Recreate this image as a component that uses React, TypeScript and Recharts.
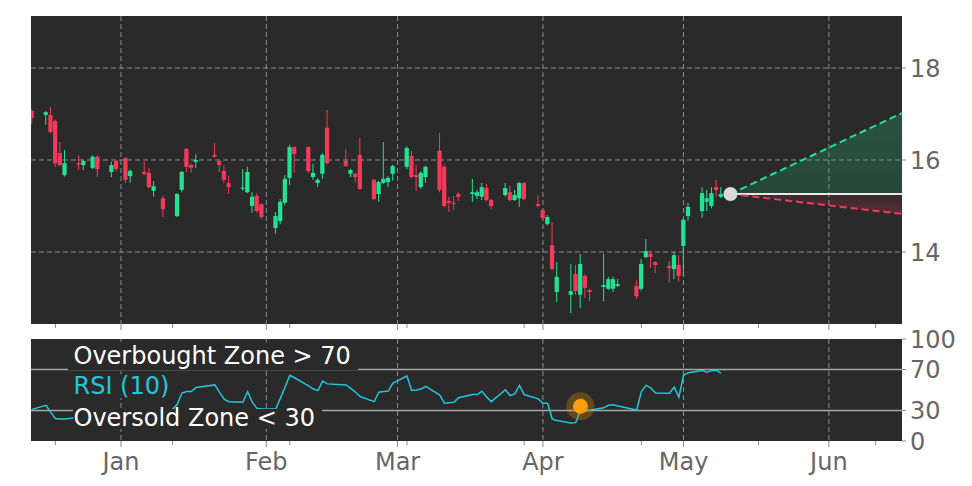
import React from 'react';
import {
  ComposedChart,
  Bar,
  Line,
  Area,
  Scatter,
  XAxis,
  YAxis,
  CartesianGrid,
  ReferenceDot,
} from 'recharts';

// trading days, counted in days from Jan 1 (negative = December)
const days = [
  -19,
  -16, -15, -14, -13, -12,
  -9, -8, -6, -5,
  -2, -1, 1, 2,
  5, 6, 7, 9,
  12, 13, 14, 15, 16,
  20, 21, 22, 23,
  26, 27, 28, 29, 30,
  33, 34, 35, 36, 37,
  40, 41, 42, 43, 44,
  48, 49, 50, 51,
  54, 55, 56, 57, 58,
  61, 62, 63, 64, 65,
  68, 69, 70, 71, 72,
  75, 76, 77, 78, 79,
  82, 83, 84, 85, 86,
  89, 90, 91, 92, 93,
  96, 97, 98, 99, 100,
  103, 104, 105, 106,
  110, 111, 112, 113, 114,
  117, 118, 119, 120, 121,
  124, 125, 126, 127, 128,
];

const opens = [
  17.07,
  16.98, 16.98, 16.85, 16.15, 15.67,
  15.93, 15.89, 15.83, 16.07,
  15.74, 15.98, 16.04, 15.65,
  15.74, 15.72, 15.33, 15.17,
  14.78, 15.35, 16.24, 15.89, 15.96,
  16.11, 15.98, 15.76, 15.5,
  15.38, 15.3, 15.0, 15.22, 15.04,
  14.52, 14.67, 15.07, 15.61, 16.28,
  16.28, 15.63, 15.5, 15.7, 16.7,
  15.98, 15.7, 15.7, 16.11,
  15.57, 15.26, 15.5, 15.52, 15.7,
  15.85, 16.09, 15.67, 15.41, 15.63,
  16.2, 15.85, 15.11, 15.07, 15.26,
  15.26, 15.22, 15.2, 15.39, 15.13,
  15.24, 15.3, 15.13, 15.17, 15.5,
  15.04, 14.91, 14.61, 14.15, 13.13,
  13.07, 13.52, 13.07, 13.48, 13.17,
  13.24, 13.2, 13.2, 13.26,
  13.26, 13.2, 13.89, 13.96, 13.78,
  13.7, 13.63, 13.72, 14.13, 14.78,
  14.89, 15.09, 15.0, 15.41, 15.2,
];

const closes = [
  16.91,
  17.04, 16.61, 15.93, 15.89, 15.93,
  15.9, 15.98, 16.07, 15.8,
  15.89, 15.8, 15.57, 15.76,
  15.7, 15.41, 15.43, 14.93,
  15.26, 15.74, 15.85, 15.83, 16.0,
  16.07, 15.89, 15.57, 15.41,
  15.4, 15.74, 15.2, 14.89, 14.76,
  14.78, 15.09, 15.59, 16.28, 16.13,
  15.76, 15.72, 15.57, 16.11, 15.93,
  15.87, 15.78, 15.63, 15.37,
  15.15, 15.52, 15.59, 15.61, 15.87,
  16.26, 15.63, 15.63, 15.72, 15.85,
  15.35, 15.0, 15.07, 15.04, 15.2,
  15.3, 15.3, 15.41, 15.13, 15.0,
  15.39, 15.13, 15.24, 15.5, 15.15,
  15.0, 14.74, 14.76, 13.63, 13.46,
  13.15, 13.15, 13.74, 13.22, 13.13,
  13.28, 13.41, 13.41, 13.3,
  13.04, 13.74, 14.02, 13.89, 13.72,
  13.65, 13.93, 13.48, 14.7, 14.98,
  15.28, 15.17, 15.28, 15.35, 15.26,
];

const highs = [
  17.1,
  17.06, 17.15, 16.88, 16.39, 16.22,
  16.11, 16.0, 16.1, 16.1,
  15.96, 16.0, 16.06, 15.8,
  15.96, 15.83, 15.54, 15.22,
  15.28, 15.76, 16.26, 15.92, 16.13,
  16.37, 16.0, 15.89, 15.65,
  15.8, 15.85, 15.3, 15.28, 15.06,
  14.87, 15.15, 15.67, 16.33, 16.3,
  16.3, 15.92, 15.6, 16.15, 17.09,
  16.24, 15.81, 15.72, 16.48,
  15.59, 15.55, 16.39, 15.65, 15.9,
  16.3, 16.2, 15.9, 15.76, 15.88,
  16.59, 15.9, 15.2, 15.22, 15.3,
  15.59, 15.35, 15.5, 15.48, 15.15,
  15.5, 15.44, 15.35, 15.52, 15.52,
  15.24, 14.93, 14.8, 14.65, 13.78,
  13.74, 13.72, 13.96, 13.52, 13.2,
  13.96, 13.46, 13.46, 13.41,
  13.39, 13.85, 14.28, 14.0, 13.8,
  13.8, 14.0, 13.93, 14.74, 15.07,
  15.41, 15.35, 15.41, 15.57, 15.41,
];

const lows = [
  16.78,
  16.76, 16.58, 15.84, 15.86, 15.64,
  15.78, 15.78, 15.8, 15.63,
  15.63, 15.76, 15.5, 15.5,
  15.67, 15.38, 15.2, 14.76,
  14.76, 15.3, 15.74, 15.72, 15.83,
  16.05, 15.74, 15.5, 15.26,
  15.33, 15.28, 14.85, 14.85, 14.72,
  14.4, 14.6, 15.02, 15.46, 15.72,
  15.72, 15.57, 15.41, 15.59, 15.9,
  15.85, 15.63, 15.52, 15.35,
  15.13, 15.09, 15.48, 15.41, 15.55,
  15.8, 15.6, 15.33, 15.37, 15.5,
  15.3, 14.97, 14.87, 14.91, 15.11,
  15.09, 15.15, 15.13, 15.1, 14.93,
  15.2, 15.1, 15.11, 14.98, 15.13,
  14.97, 14.7, 14.58, 13.6, 12.91,
  12.67, 13.07, 12.78, 13.0, 12.93,
  12.93, 13.17, 13.13, 13.24,
  12.98, 13.15, 13.87, 13.65, 13.54,
  13.33, 13.41, 13.35, 13.48, 14.68,
  14.74, 14.89, 14.95, 15.2, 15.17,
];

const rsi = [
  31,
  35, 28, 22, 21.5, 21.5,
  23, 25, 27, 25,
  27, 26, 24, 26,
  26, 24, 25, 21,
  36, 47, 48.5, 48.5, 52.5,
  55, 48, 41, 38.5,
  38, 48.5, 38, 32, 31.3,
  31.3, 42, 53, 64.4, 62,
  54, 51, 49.5, 58.7, 56,
  55, 51.5, 48, 43.6,
  38.6, 47.8, 48.5, 49, 56.7,
  63.7, 49.5, 50, 51, 53.5,
  45, 37, 37.5, 38, 42.5,
  45.5, 45.5, 48.8, 43, 38.6,
  50.2, 44.6, 46.2, 54.5, 45.5,
  41.3, 37, 37, 21.5, 20,
  17.7, 18, 29.7, 29.7, 30.2,
  32.5, 35, 35.6, 34.3,
  30.4, 48.5, 54.5, 52, 47,
  46.8, 52.8, 43, 64.4, 67,
  69, 67.5, 69, 69.3, 66.6,
];

// projection cone
const X_MIN = -19.2;
const X_MAX = 166.6;
const projDays = [130, X_MAX];
const projBase = [15.26, 15.26];
const projUpper = [15.26, 17.02];
const projLower = [15.26, 14.83];

// RSI signal marker
const signalDays = [98];
const signalValues = [34];

const MONTH_DAYS = [0, 31, 59, 90, 120, 151];
const MONTH_LABELS = ['Jan', 'Feb', 'Mar', 'Apr', 'May', 'Jun'];
const MINOR_DAYS = [-14, 11, 36, 61, 86, 111, 136, 161];
const PRICE_TICKS = [14, 16, 18];
const RSI_TICKS = [0, 30, 70, 100];

const GREEN = '#22e293';
const RED = '#f5395a';
const CYAN = '#22c6db';
const PLOT_BG = '#2a2a2a';
const FONT = 'DejaVu Sans';

const candles = days.map((d, i) => ({
  day: d,
  open: opens[i],
  high: highs[i],
  low: lows[i],
  close: closes[i],
}));
const rsiRows = days.map((d, i) => ({ day: d, rsi: rsi[i] }));
const proj = projDays.map((d, i) => ({
  day: d,
  base: projBase[i],
  upper: projUpper[i],
  lower: projLower[i],
  upRange: [projBase[i], projUpper[i]],
  downRange: [projLower[i], projBase[i]],
}));
const signal = signalDays.map((d, i) => ({ day: d, v: signalValues[i] }));
const allTicks = [...MONTH_DAYS, ...MINOR_DAYS].sort((a, b) => a - b);

const Candle = (props: any) => {
  const { x, y, width, height, payload } = props;
  if (!payload) return null;
  const { open, close, high, low } = payload;
  const color = close >= open ? GREEN : RED;
  const top = Math.min(y, y + height);
  const h = Math.abs(height);
  const k = high === low ? 0 : h / (high - low);
  const bodyTop = top + (high - Math.max(open, close)) * k;
  const bodyH = Math.max(1.2, Math.abs(open - close) * k);
  const cx = x + width / 2;
  return (
    <g>
      <line x1={cx} x2={cx} y1={top} y2={top + h} stroke={color} strokeWidth={1} />
      <rect x={x} y={bodyTop} width={width} height={bodyH} fill={color} />
    </g>
  );
};

const XTick = (props: any) => {
  const { x, y, payload, showLabel } = props;
  const i = MONTH_DAYS.indexOf(payload.value);
  const major = i >= 0;
  return (
    <g>
      <line x1={x} x2={x} y1={y} y2={y + (major ? 6 : 4)} stroke="#888" strokeWidth={1} />
      {showLabel && major && (
        <text x={x} y={y + 29} textAnchor="middle" fill="#666" fontSize={24} fontFamily={FONT}>
          {MONTH_LABELS[i]}
        </text>
      )}
    </g>
  );
};

const SignalDot = (props: any) => {
  const { cx, cy } = props;
  return (
    <g>
      <circle cx={cx} cy={cy} r={14} fill="#ff9a00" fillOpacity={0.28} />
      <circle cx={cx} cy={cy} r={7.5} fill="#ff9d0a" />
    </g>
  );
};

const yTick = { fill: '#666', fontSize: 24, fontFamily: FONT };

const boxStyle = (left: number, top: number, h: number, lh: number, color: string, padLeft: number) => ({
  position: 'absolute' as const,
  left,
  top,
  height: h,
  lineHeight: `${lh}px`,
  padding: `0 7px 0 ${padLeft}px`,
  fontSize: 24,
  fontFamily: FONT,
  color,
  background: PLOT_BG,
  whiteSpace: 'nowrap' as const,
});

export default function App() {
  return (
    <div style={{ position: 'absolute', left: 0, top: 0, width: 972, height: 486, background: '#fff' }}>
      <div style={{ position: 'absolute', left: 0, top: 0 }}>
        <ComposedChart width={972} height={332} data={candles} margin={{ top: 16, right: 0, left: 31, bottom: 0 }}>
          <defs>
            <linearGradient id="upFill" x1="0" y1="0" x2="0" y2="1">
              <stop offset="0%" stopColor="#22b574" stopOpacity={0.5} />
              <stop offset="100%" stopColor="#22b574" stopOpacity={0.35} />
            </linearGradient>
            <linearGradient id="downFill" x1="0" y1="0" x2="0" y2="1">
              <stop offset="0%" stopColor="#d0304f" stopOpacity={0.12} />
              <stop offset="100%" stopColor="#d0304f" stopOpacity={0.5} />
            </linearGradient>
          </defs>
          <CartesianGrid
            fill={PLOT_BG}
            stroke="#8c8c8c"
            strokeDasharray="5 3"
            verticalValues={MONTH_DAYS}
            horizontalValues={PRICE_TICKS}
          />
          <XAxis
            dataKey="day"
            type="number"
            domain={[X_MIN, X_MAX]}
            allowDataOverflow
            ticks={allTicks}
            interval={0}
            tick={<XTick showLabel={false} />}
            tickSize={0}
            tickMargin={0}
            tickLine={false}
            axisLine={false}
            height={8}
          />
          <YAxis
            orientation="right"
            type="number"
            domain={[12.435, 19.13]}
            allowDataOverflow
            ticks={PRICE_TICKS}
            interval={0}
            width={70}
            axisLine={false}
            tickLine={{ stroke: '#888' }}
            tickSize={4}
            tickMargin={4}
            tick={yTick}
          />
          <Area data={proj} dataKey="upRange" type="linear" stroke="none" fill="url(#upFill)" isAnimationActive={false} />
          <Area data={proj} dataKey="downRange" type="linear" stroke="none" fill="url(#downFill)" isAnimationActive={false} />
          <Bar dataKey={(d: any) => [d.low, d.high]} barSize={5} shape={<Candle />} isAnimationActive={false} />
          <Line data={proj} dataKey="base" stroke="#e8e8e8" strokeWidth={2} dot={false} isAnimationActive={false} />
          <Line data={proj} dataKey="upper" stroke={GREEN} strokeWidth={2} strokeDasharray="7 4" dot={false} isAnimationActive={false} />
          <Line data={proj} dataKey="lower" stroke={RED} strokeWidth={2} strokeDasharray="7 4" dot={false} isAnimationActive={false} />
          <ReferenceDot x={projDays[0]} y={projBase[0]} r={7} fill="#d9d9d9" stroke="none" />
        </ComposedChart>
      </div>

      <div style={{ position: 'absolute', left: 0, top: 320 }}>
        <ComposedChart width={972} height={166} data={rsiRows} margin={{ top: 19, right: 0, left: 31, bottom: 0 }}>
          <CartesianGrid
            fill={PLOT_BG}
            stroke="#8c8c8c"
            strokeDasharray="5 3"
            horizontal={false}
            verticalValues={MONTH_DAYS}
          />
          <CartesianGrid stroke="#a6a6a6" strokeWidth={1.5} vertical={false} horizontalValues={[30, 70]} />
          <XAxis
            dataKey="day"
            type="number"
            domain={[X_MIN, X_MAX]}
            allowDataOverflow
            ticks={allTicks}
            interval={0}
            tick={<XTick showLabel />}
            tickSize={0}
            tickMargin={0}
            tickLine={false}
            axisLine={false}
            height={45}
          />
          <YAxis
            orientation="right"
            type="number"
            domain={[0, 100]}
            ticks={RSI_TICKS}
            interval={0}
            width={70}
            axisLine={false}
            tickLine={{ stroke: '#888' }}
            tickSize={4}
            tickMargin={4}
            tick={yTick}
          />
          <Line dataKey="rsi" stroke={CYAN} strokeWidth={1.5} dot={false} isAnimationActive={false} />
          <Scatter data={signal} dataKey="v" shape={<SignalDot />} isAnimationActive={false} />
        </ComposedChart>
      </div>

      <div style={boxStyle(68, 342, 28, 28, '#fff', 5.5)}>Overbought Zone &gt; 70</div>
      <div style={boxStyle(70, 374, 24, 24, CYAN, 3.5)}>RSI (10)</div>
      <div style={boxStyle(73, 409, 20, 18, '#fff', 0.5)}>Oversold Zone &lt; 30</div>
    </div>
  );
}
